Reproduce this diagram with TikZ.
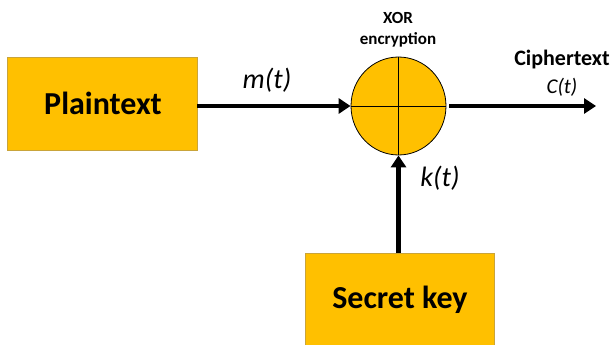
\documentclass[tikz,border=0pt]{standalone}
\usepackage{fontspec}
\setmainfont{Carlito}
\usetikzlibrary{arrows.meta,shapes.geometric}
\definecolor{boxfill}{HTML}{FFC000}
\definecolor{boxedge}{HTML}{C9A43A}
\tikzset{
  blockbox/.style={draw=boxedge, line width=0.8pt, fill=boxfill, inner sep=0pt},
  sig/.style={line width=4.2pt, -{Triangle[length=12pt,width=15pt]}},
  lbl/.style={inner sep=0pt, font=\itshape\fontsize{28}{30}\selectfont},
}
\begin{document}
\begin{tikzpicture}[x=1pt,y=-1pt]
\useasboundingbox (0,0) rectangle (613,345);
% boxes
\node[blockbox, minimum width=190pt, minimum height=93pt] (plain) at (102,103.5) {};
\node[font=\bfseries\fontsize{32}{34}\selectfont, inner sep=0pt] (plaintxt) at (103,103) {Plaintext};
\node[blockbox, minimum width=189pt, minimum height=100pt, anchor=north west] (key) at (305,253) {};
\node[font=\bfseries\fontsize{32}{34}\selectfont, inner sep=0pt] (keytxt) at (400,300) {Secret key};
% XOR
\node[draw=black, line width=0.8pt, fill=boxfill, ellipse, minimum width=95pt, minimum height=98pt, inner sep=0pt] (xor) at (398.5,106) {};
\draw[line width=0.8pt] (xor.north) -- (xor.south);
\draw[line width=0.8pt] (xor.west) -- (xor.east);
\node[font=\bfseries\fontsize{17}{18}\selectfont, inner sep=0pt] (xortitle) at (398,18) {XOR};
\node[font=\bfseries\fontsize{17}{18}\selectfont, inner sep=0pt] (enc) at (398,40) {encryption};
% output
\coordinate (out) at (596,106);
\node[font=\bfseries\fontsize{22}{24}\selectfont, inner sep=0pt] (ctext) at (562,60) {Ciphertext};
\node[font=\itshape\fontsize{21}{22}\selectfont, inner sep=0pt] (ct) at (562,87) {C(t)};
% arrows
\draw[sig] (plain.east |- xor.west) -- (xor.west);
\draw[sig, shorten <=3pt] (xor.east) -- (out);
\draw[sig] (key.north -| xor.south) -- (xor.south);
% labels
\node[lbl] (m) at (267,80) {m(t)};
\node[lbl] (k) at (440,178) {k(t)};
\end{tikzpicture}
\end{document}
